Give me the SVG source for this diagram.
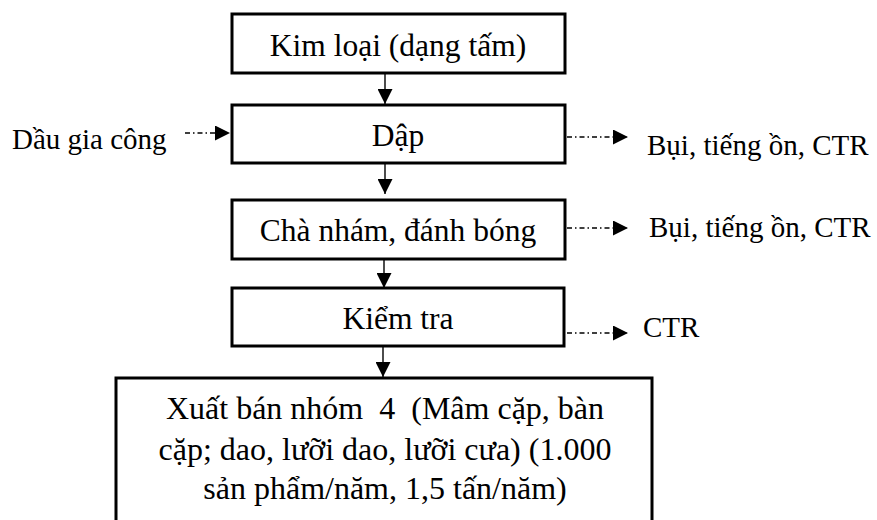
<svg xmlns="http://www.w3.org/2000/svg" width="877" height="520" viewBox="0 0 877 520">
  <style>
    .box { fill: #fff; stroke: #000; stroke-width: 3; }
    text { font-family: "Liberation Serif", "Times New Roman", serif; fill: #000; }
    .bt { font-size: 31.5px; text-anchor: middle; }
    .pt { font-size: 32px; text-anchor: middle; }
    .st { font-size: 29px; }
    .flow { stroke: #000; stroke-width: 1.4; fill: none; }
    .side { stroke: #000; stroke-width: 1.3; fill: none; stroke-dasharray: 5 3 1.5 3; }
  </style>
  <defs>
    <marker id="arrow" markerWidth="15" markerHeight="15" refX="15" refY="7.5" orient="auto" markerUnits="userSpaceOnUse">
      <path d="M0,0 L15,7.5 L0,15 Z" fill="#000"/>
    </marker>
  </defs>

  <!-- process steps -->
  <g id="kim-loai">
    <rect class="box" x="232" y="14" width="333" height="59"/>
    <text class="bt" x="398" y="56">Kim loại (dạng tấm)</text>
  </g>
  <g id="dap">
    <rect class="box" x="232" y="105" width="333" height="58"/>
    <text class="bt" x="398" y="146">Dập</text>
  </g>
  <g id="cha-nham">
    <rect class="box" x="232" y="200" width="333" height="59"/>
    <text class="bt" x="398" y="241">Chà nhám, đánh bóng</text>
  </g>
  <g id="kiem-tra">
    <rect class="box" x="232" y="288" width="332" height="58"/>
    <text class="bt" x="398" y="329">Kiểm tra</text>
  </g>
  <g id="xuat-ban">
    <rect class="box" x="116" y="378" width="536" height="150"/>
    <text class="pt" x="385" y="419" xml:space="preserve">Xuất bán nhóm  4  (Mâm cặp, bàn</text>
    <text class="pt" x="385" y="460">cặp; dao, lưỡi dao, lưỡi cưa) (1.000</text>
    <text class="pt" x="385" y="499">sản phẩm/năm, 1,5 tấn/năm)</text>
  </g>

  <!-- inputs and outputs -->
  <g id="dau-gia-cong">
    <text class="st" x="12" y="149">Dầu gia công</text>
  </g>
  <g id="out-dap">
    <text class="st" x="647" y="155">Bụi, tiếng ồn, CTR</text>
  </g>
  <g id="out-cha-nham">
    <text class="st" x="649" y="237">Bụi, tiếng ồn, CTR</text>
  </g>
  <g id="out-kiem-tra">
    <text class="st" x="643" y="337">CTR</text>
  </g>

  <!-- connectors -->
  <g id="connectors">
    <line class="flow" x1="385" y1="74" x2="385" y2="104" marker-end="url(#arrow)"/>
    <line class="flow" x1="385" y1="164" x2="385" y2="194" marker-end="url(#arrow)"/>
    <line class="flow" x1="384" y1="260" x2="384" y2="288" marker-end="url(#arrow)"/>
    <line class="flow" x1="383" y1="347" x2="383" y2="377" marker-end="url(#arrow)"/>
    <line class="side" x1="185" y1="133" x2="230" y2="133" marker-end="url(#arrow)"/>
    <line class="side" x1="567" y1="137" x2="628" y2="137" marker-end="url(#arrow)"/>
    <line class="side" x1="567" y1="228" x2="628" y2="228" marker-end="url(#arrow)"/>
    <line class="side" x1="567" y1="333" x2="628" y2="333" marker-end="url(#arrow)"/>
  </g>
</svg>
